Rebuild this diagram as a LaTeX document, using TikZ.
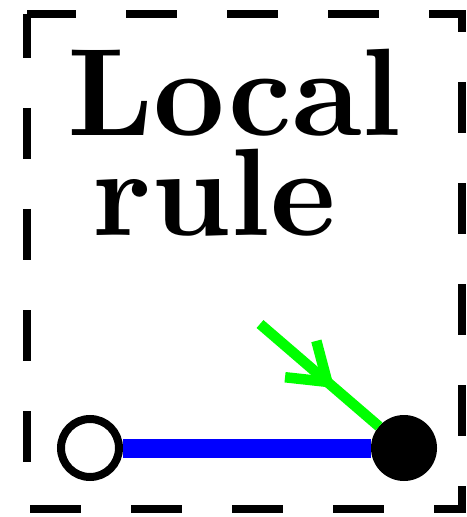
\documentclass[tikz,border=0pt]{standalone}
\usepackage{fontspec}
\newfontfamily\tenbold{lmroman10-bold.otf}
\usetikzlibrary{arrows.meta,decorations.markings}
\definecolor{pureblue}{RGB}{0,0,255}
\definecolor{puregreen}{RGB}{0,255,0}
\tikzset{
  frame/.style={draw=black, line width=1.6pt, dash pattern=on 10.2pt off 10pt, dash phase=1.4pt},
  label/.style={anchor=north west, inner sep=0pt, align=left, font=\fontsize{24.9}{20pt}\selectfont\tenbold},
  opendot/.style={circle, draw=black, fill=white, line width=1.6pt, minimum size=11.6pt, inner sep=0pt},
  fulldot/.style={circle, fill=black, minimum size=13.2pt, inner sep=0pt, outer sep=0pt},
  blueedge/.style={draw=pureblue, line width=3.8pt},
  greenedge/.style={draw=puregreen, line width=2.1pt, line cap=butt,
    postaction={decorate, decoration={markings, mark=at position 19.6pt with {\arrow[puregreen, line width=2.1pt]{Straight Barb[length=7pt, width=9.6pt]}}}}}
}
\begin{document}
\begin{tikzpicture}[x=0.2pt, y=-0.2pt]
\useasboundingbox (0,0) rectangle (466,517);
\draw[frame] (27,14) rectangle (462,509);
\node[label] (title) at (66,48) {Local\\\hspace*{5pt}rule};
\node[opendot] (a) at (90,448) {};
\node[fulldot] (b) at (404,448) {};
\coordinate (g) at (260,324);
\draw[blueedge] (a) -- (b);
\draw[greenedge] (g) -- (b);
\end{tikzpicture}
\end{document}
